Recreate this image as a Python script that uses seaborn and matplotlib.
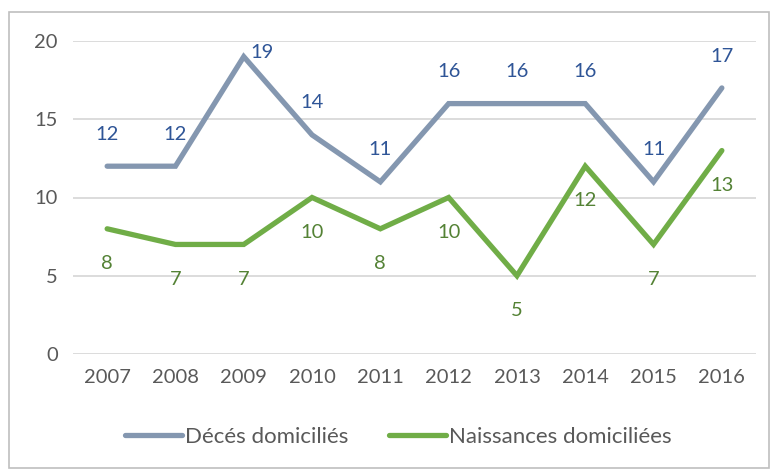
import pandas as pd
import matplotlib.pyplot as plt
import seaborn as sns
from matplotlib.patches import Rectangle

sns.set_theme(style="white")
plt.rcParams['font.family'] = ['Lato', 'DejaVu Sans']

# data
years = [2007, 2008, 2009, 2010, 2011, 2012, 2013, 2014, 2015, 2016]
deces = [12, 12, 19, 14, 11, 16, 16, 16, 11, 17]
naissances = [8, 7, 7, 10, 8, 10, 5, 12, 7, 13]
series_names = ["Décés domiciliés", "Naissances domiciliées"]

line_colors = {"Décés domiciliés": "#8497B0", "Naissances domiciliées": "#70AD47"}
label_colors = {"Décés domiciliés": "#2F5597", "Naissances domiciliées": "#548235"}

df = pd.DataFrame({
    "x": list(range(len(years))) * 2,
    "value": deces + naissances,
    "serie": [series_names[0]] * len(years) + [series_names[1]] * len(years),
})

fig = plt.figure(figsize=(7.72, 4.70), dpi=100)
ax = fig.add_axes([73 / 772, 1 - 354 / 470, (756 - 73) / 772, (354 - 41) / 470])

# outer chart border
fig.patches.append(Rectangle((9 / 772, 2 / 470), 760 / 772, 456 / 470,
                             transform=fig.transFigure, fill=False,
                             edgecolor="#BFBFBF", linewidth=1.2))

sns.lineplot(data=df, x="x", y="value", hue="serie", palette=line_colors,
             linewidth=3.8, ax=ax, legend=True, solid_capstyle="round",
             solid_joinstyle="miter")

# data labels
for i, v in enumerate(deces):
    if i == 2:
        off = (13, 3)
    else:
        off = (0, 23)
    ax.annotate(str(v), (i, v), xytext=off, textcoords="offset points",
                ha="center", va="center", fontsize=14.5,
                color=label_colors[series_names[0]])
for i, v in enumerate(naissances):
    ax.annotate(str(v), (i, v), xytext=(0, -25), textcoords="offset points",
                ha="center", va="center", fontsize=14.5,
                color=label_colors[series_names[1]])

ax.set_xlim(-0.5, len(years) - 0.5)
ax.set_ylim(0, 20)
ax.set_yticks([0, 5, 10, 15, 20])
ax.set_xticks(range(len(years)))
ax.set_xticklabels([str(y) for y in years])
ax.tick_params(axis="both", labelsize=14.5, labelcolor="#595959", length=0, pad=11)
ax.set_xlabel("")
ax.set_ylabel("")
ax.grid(axis="y", color="#D9D9D9", linewidth=1.3)
ax.set_axisbelow(True)
for s in ax.spines.values():
    s.set_visible(False)

handles, labels = ax.get_legend_handles_labels()
ax.legend(handles, labels, loc="center", bbox_to_anchor=(0.5 - 16 / 683, -(437 - 354) / 313),
          ncol=2, frameon=False, fontsize=16, handlelength=2.55, handletextpad=0.15,
          columnspacing=1.8, labelcolor="#595959")

fig.savefig("out.png", dpi=100)
